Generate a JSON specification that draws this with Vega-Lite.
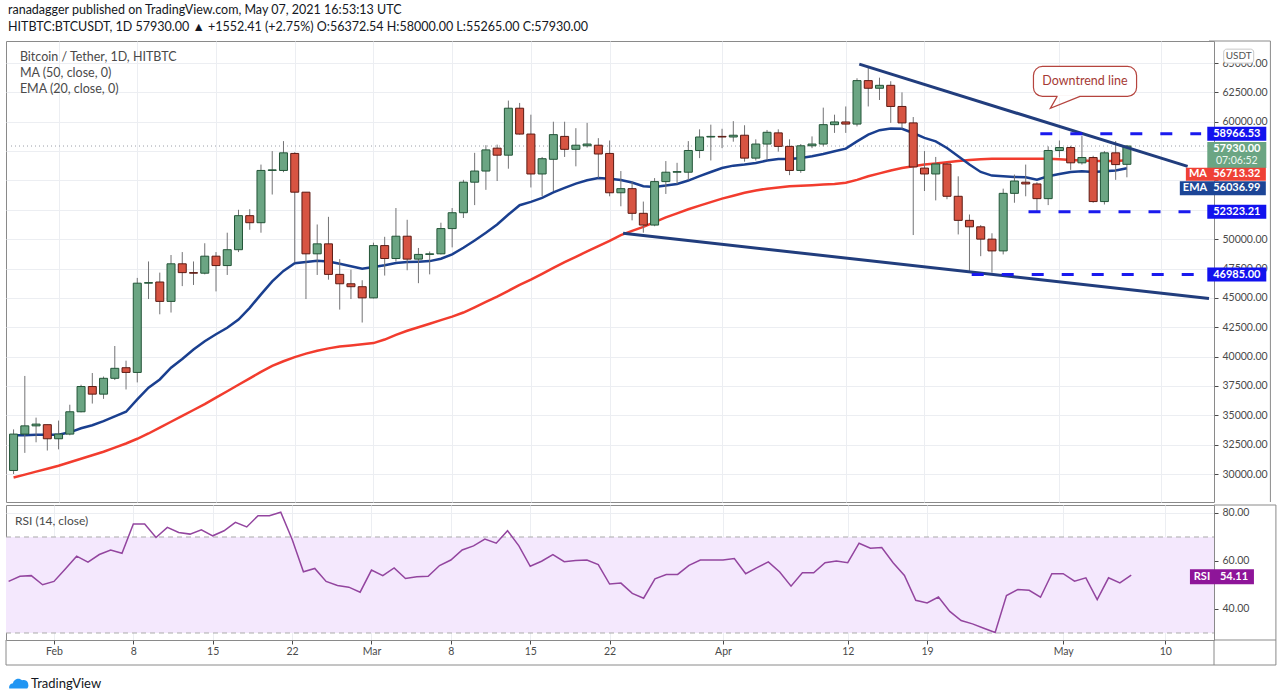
{
"$schema": "https://vega.github.io/schema/vega-lite/v6.json",
"background": "white",
"padding": {"left": 5, "top": 4, "right": 5, "bottom": 0},
"title": {"text": "ranadagger published on TradingView.com, May 07, 2021 16:53:13 UTC", "subtitle": "HITBTC:BTCUSDT, 1D  57930.00 ▲ +1552.41 (+2.75%)  O:56372.54  H:58000.00  L:55265.00  C:57930.00", "anchor": "start", "font": "Lato", "fontSize": 12.5, "fontWeight": "normal", "color": "#131722", "subtitleFont": "Lato", "subtitleFontSize": 12.5, "subtitleColor": "#131722", "subtitlePadding": 4, "offset": 7, "dx": 3},
"datasets": {
"bars": [
{"d":"2021-01-28","o":30300,"h":33800,"l":30000,"c":33400,"ma":29700,"ema":33300,"rsi":51.5},
{"d":"2021-01-29","o":33400,"h":38350,"l":31800,"c":34100,"ma":29950,"ema":33300,"rsi":53.6},
{"d":"2021-01-30","o":34100,"h":34800,"l":32700,"c":34250,"ma":30200,"ema":33350,"rsi":53.9},
{"d":"2021-01-31","o":34200,"h":34200,"l":32000,"c":33000,"ma":30450,"ema":33350,"rsi":50.1},
{"d":"2021-02-01","o":33000,"h":34550,"l":32100,"c":33400,"ma":30700,"ema":33350,"rsi":51.5},
{"d":"2021-02-02","o":33400,"h":35900,"l":33300,"c":35300,"ma":31000,"ema":33550,"rsi":56.7},
{"d":"2021-02-03","o":35300,"h":37600,"l":35250,"c":37450,"ma":31300,"ema":33900,"rsi":62.0},
{"d":"2021-02-04","o":37450,"h":38600,"l":36000,"c":36800,"ma":31600,"ema":34150,"rsi":59.5},
{"d":"2021-02-05","o":36800,"h":38300,"l":36400,"c":38150,"ma":31900,"ema":34500,"rsi":62.7},
{"d":"2021-02-06","o":38150,"h":40900,"l":38000,"c":39000,"ma":32250,"ema":34900,"rsi":64.6},
{"d":"2021-02-07","o":39050,"h":39650,"l":37200,"c":38650,"ma":32600,"ema":35300,"rsi":63.2},
{"d":"2021-02-08","o":38650,"h":46700,"l":37800,"c":46250,"ma":33000,"ema":36350,"rsi":75.4},
{"d":"2021-02-09","o":46250,"h":48100,"l":44900,"c":46300,"ma":33450,"ema":37350,"rsi":75.4},
{"d":"2021-02-10","o":46350,"h":47150,"l":43600,"c":44700,"ma":33950,"ema":38050,"rsi":69.8},
{"d":"2021-02-11","o":44700,"h":48650,"l":43750,"c":47900,"ma":34450,"ema":39050,"rsi":74.0},
{"d":"2021-02-12","o":47900,"h":48900,"l":46000,"c":47150,"ma":34950,"ema":39800,"rsi":71.9},
{"d":"2021-02-13","o":47150,"h":48100,"l":46100,"c":47100,"ma":35450,"ema":40600,"rsi":71.2},
{"d":"2021-02-14","o":47100,"h":49650,"l":47000,"c":48550,"ma":35950,"ema":41300,"rsi":73.0},
{"d":"2021-02-15","o":48550,"h":48900,"l":45550,"c":47750,"ma":36500,"ema":41900,"rsi":70.5},
{"d":"2021-02-16","o":47750,"h":50550,"l":46950,"c":49100,"ma":37050,"ema":42450,"rsi":72.6},
{"d":"2021-02-17","o":49100,"h":52500,"l":48900,"c":52000,"ma":37600,"ema":43150,"rsi":76.1},
{"d":"2021-02-18","o":52000,"h":52550,"l":50800,"c":51400,"ma":38150,"ema":44150,"rsi":74.2},
{"d":"2021-02-19","o":51400,"h":56350,"l":50550,"c":55850,"ma":38700,"ema":45300,"rsi":78.9},
{"d":"2021-02-20","o":55850,"h":57500,"l":53800,"c":55900,"ma":39200,"ema":46400,"rsi":78.9},
{"d":"2021-02-21","o":55850,"h":58350,"l":55700,"c":57350,"ma":39600,"ema":47300,"rsi":80.3},
{"d":"2021-02-22","o":57300,"h":57400,"l":48000,"c":54000,"ma":39950,"ema":47950,"rsi":69.1},
{"d":"2021-02-23","o":54000,"h":54000,"l":44900,"c":48750,"ma":40250,"ema":48050,"rsi":55.5},
{"d":"2021-02-24","o":48750,"h":51250,"l":46950,"c":49600,"ma":40500,"ema":48150,"rsi":56.9},
{"d":"2021-02-25","o":49600,"h":51900,"l":46550,"c":47000,"ma":40700,"ema":48100,"rsi":51.5},
{"d":"2021-02-26","o":47000,"h":48300,"l":44000,"c":46200,"ma":40850,"ema":47900,"rsi":49.8},
{"d":"2021-02-27","o":46200,"h":47400,"l":44900,"c":45950,"ma":40950,"ema":47700,"rsi":49.1},
{"d":"2021-02-28","o":45950,"h":46500,"l":42900,"c":45000,"ma":41050,"ema":47480,"rsi":47.0},
{"d":"2021-03-01","o":45000,"h":49700,"l":44950,"c":49450,"ma":41150,"ema":47620,"rsi":56.2},
{"d":"2021-03-02","o":49450,"h":50200,"l":46900,"c":48350,"ma":41450,"ema":47770,"rsi":53.9},
{"d":"2021-03-03","o":48350,"h":52650,"l":48100,"c":50250,"ma":41850,"ema":47960,"rsi":57.1},
{"d":"2021-03-04","o":50250,"h":51650,"l":47350,"c":48300,"ma":42200,"ema":48050,"rsi":52.7},
{"d":"2021-03-05","o":48300,"h":49250,"l":46250,"c":48700,"ma":42500,"ema":48080,"rsi":53.4},
{"d":"2021-03-06","o":48700,"h":48950,"l":47000,"c":48750,"ma":42800,"ema":48130,"rsi":53.6},
{"d":"2021-03-07","o":48750,"h":51400,"l":48700,"c":50900,"ma":43100,"ema":48330,"rsi":58.1},
{"d":"2021-03-08","o":50900,"h":52650,"l":49300,"c":52250,"ma":43400,"ema":48700,"rsi":60.4},
{"d":"2021-03-09","o":52250,"h":55050,"l":51800,"c":54850,"ma":43750,"ema":49270,"rsi":64.6},
{"d":"2021-03-10","o":54850,"h":57350,"l":52900,"c":55800,"ma":44200,"ema":49890,"rsi":66.3},
{"d":"2021-03-11","o":55800,"h":58000,"l":54200,"c":57600,"ma":44650,"ema":50540,"rsi":69.1},
{"d":"2021-03-12","o":57750,"h":58050,"l":54950,"c":57150,"ma":45100,"ema":51250,"rsi":67.4},
{"d":"2021-03-13","o":57150,"h":61800,"l":56000,"c":61150,"ma":45600,"ema":52100,"rsi":72.6},
{"d":"2021-03-14","o":61150,"h":61600,"l":58900,"c":58950,"ma":46100,"ema":52890,"rsi":66.3},
{"d":"2021-03-15","o":58950,"h":60600,"l":54400,"c":55550,"ma":46550,"ema":53170,"rsi":57.8},
{"d":"2021-03-16","o":55550,"h":57000,"l":53650,"c":56850,"ma":47050,"ema":53510,"rsi":59.9},
{"d":"2021-03-17","o":56800,"h":60000,"l":54100,"c":58900,"ma":47550,"ema":53990,"rsi":62.7},
{"d":"2021-03-18","o":58750,"h":60000,"l":57000,"c":57650,"ma":48050,"ema":54360,"rsi":59.7},
{"d":"2021-03-19","o":57650,"h":59450,"l":56200,"c":58000,"ma":48500,"ema":54730,"rsi":60.2},
{"d":"2021-03-20","o":57950,"h":59900,"l":57800,"c":58100,"ma":48950,"ema":55020,"rsi":60.4},
{"d":"2021-03-21","o":58000,"h":58600,"l":55200,"c":57250,"ma":49400,"ema":55210,"rsi":58.5},
{"d":"2021-03-22","o":57300,"h":58400,"l":53650,"c":53950,"ma":49850,"ema":55150,"rsi":50.4},
{"d":"2021-03-23","o":53950,"h":55800,"l":52800,"c":54300,"ma":50350,"ema":55030,"rsi":50.8},
{"d":"2021-03-24","o":54300,"h":54900,"l":51600,"c":52200,"ma":50700,"ema":54820,"rsi":46.5},
{"d":"2021-03-25","o":52200,"h":53200,"l":50550,"c":51200,"ma":51050,"ema":54510,"rsi":44.5},
{"d":"2021-03-26","o":51200,"h":55200,"l":51100,"c":54900,"ma":51450,"ema":54450,"rsi":52.6},
{"d":"2021-03-27","o":54900,"h":56650,"l":53850,"c":55700,"ma":51850,"ema":54560,"rsi":54.4},
{"d":"2021-03-28","o":55700,"h":56500,"l":54700,"c":55750,"ma":52200,"ema":54700,"rsi":54.4},
{"d":"2021-03-29","o":55700,"h":58350,"l":55050,"c":57550,"ma":52550,"ema":54990,"rsi":58.2},
{"d":"2021-03-30","o":57550,"h":59350,"l":56900,"c":58700,"ma":52850,"ema":55360,"rsi":60.4},
{"d":"2021-03-31","o":58700,"h":59750,"l":56700,"c":58750,"ma":53150,"ema":55720,"rsi":60.4},
{"d":"2021-04-01","o":58750,"h":59400,"l":57750,"c":58700,"ma":53450,"ema":56060,"rsi":60.4},
{"d":"2021-04-02","o":58700,"h":60050,"l":58300,"c":58850,"ma":53700,"ema":56260,"rsi":61.0},
{"d":"2021-04-03","o":58850,"h":59700,"l":56600,"c":56900,"ma":53950,"ema":56350,"rsi":54.7},
{"d":"2021-04-04","o":56900,"h":58500,"l":56700,"c":58100,"ma":54150,"ema":56490,"rsi":57.2},
{"d":"2021-04-05","o":58100,"h":59300,"l":56750,"c":59100,"ma":54300,"ema":56690,"rsi":59.6},
{"d":"2021-04-06","o":59050,"h":59350,"l":57450,"c":57900,"ma":54400,"ema":56830,"rsi":55.4},
{"d":"2021-04-07","o":57900,"h":58500,"l":55450,"c":55850,"ma":54500,"ema":56830,"rsi":49.5},
{"d":"2021-04-08","o":55850,"h":58100,"l":55650,"c":57950,"ma":54550,"ema":56910,"rsi":55.1},
{"d":"2021-04-09","o":57950,"h":58750,"l":57750,"c":58100,"ma":54600,"ema":57060,"rsi":55.1},
{"d":"2021-04-10","o":58100,"h":61200,"l":57900,"c":59750,"ma":54650,"ema":57250,"rsi":59.3},
{"d":"2021-04-11","o":59750,"h":60600,"l":59050,"c":59980,"ma":54700,"ema":57480,"rsi":60.0},
{"d":"2021-04-12","o":59980,"h":61300,"l":59050,"c":59800,"ma":54800,"ema":57710,"rsi":59.3},
{"d":"2021-04-13","o":59800,"h":63700,"l":59600,"c":63500,"ma":55050,"ema":58330,"rsi":67.4},
{"d":"2021-04-14","o":63500,"h":64600,"l":61300,"c":62850,"ma":55350,"ema":58900,"rsi":65.3},
{"d":"2021-04-15","o":62850,"h":63750,"l":61850,"c":63100,"ma":55600,"ema":59280,"rsi":65.6},
{"d":"2021-04-16","o":63100,"h":63450,"l":59900,"c":61300,"ma":55850,"ema":59420,"rsi":59.3},
{"d":"2021-04-17","o":61300,"h":62500,"l":59400,"c":59900,"ma":56050,"ema":59400,"rsi":54.0},
{"d":"2021-04-18","o":59900,"h":60400,"l":50350,"c":56150,"ma":56200,"ema":59040,"rsi":43.6},
{"d":"2021-04-19","o":56050,"h":57500,"l":54100,"c":55550,"ma":56350,"ema":58620,"rsi":42.5},
{"d":"2021-04-20","o":55550,"h":57000,"l":53300,"c":56400,"ma":56450,"ema":58330,"rsi":45.0},
{"d":"2021-04-21","o":56400,"h":56500,"l":53400,"c":53650,"ma":56550,"ema":57760,"rsi":39.0},
{"d":"2021-04-22","o":53650,"h":55350,"l":50400,"c":51600,"ma":56650,"ema":57060,"rsi":35.2},
{"d":"2021-04-23","o":51600,"h":52100,"l":47300,"c":51050,"ma":56750,"ema":56350,"rsi":33.8},
{"d":"2021-04-24","o":51050,"h":51200,"l":48550,"c":50000,"ma":56800,"ema":55720,"rsi":32.0},
{"d":"2021-04-25","o":50000,"h":50500,"l":47150,"c":49000,"ma":56850,"ema":55410,"rsi":30.2},
{"d":"2021-04-26","o":49000,"h":54300,"l":48700,"c":53900,"ma":56850,"ema":55360,"rsi":45.6},
{"d":"2021-04-27","o":53900,"h":55500,"l":53100,"c":54950,"ma":56850,"ema":55300,"rsi":48.1},
{"d":"2021-04-28","o":54850,"h":56350,"l":53650,"c":54700,"ma":56850,"ema":55270,"rsi":47.8},
{"d":"2021-04-29","o":54700,"h":54850,"l":52400,"c":53450,"ma":56850,"ema":55070,"rsi":44.9},
{"d":"2021-04-30","o":53450,"h":57900,"l":52900,"c":57550,"ma":56850,"ema":55360,"rsi":54.7},
{"d":"2021-05-01","o":57550,"h":58400,"l":56950,"c":57800,"ma":56800,"ema":55550,"rsi":54.7},
{"d":"2021-05-02","o":57800,"h":57950,"l":55900,"c":56500,"ma":56750,"ema":55720,"rsi":51.6},
{"d":"2021-05-03","o":56500,"h":58800,"l":56350,"c":56950,"ma":56700,"ema":55780,"rsi":53.0},
{"d":"2021-05-04","o":56950,"h":57100,"l":53100,"c":53200,"ma":56650,"ema":55720,"rsi":43.9},
{"d":"2021-05-05","o":53200,"h":57500,"l":52950,"c":57350,"ma":56650,"ema":55780,"rsi":53.0},
{"d":"2021-05-06","o":57350,"h":58350,"l":55050,"c":56350,"ma":56650,"ema":55840,"rsi":50.9},
{"d":"2021-05-07","o":56372.54,"h":58000,"l":55265,"c":57930,"ma":56713.32,"ema":56036.99,"rsi":54.11}
]
},
"spacing": 1,
"vconcat": [
{
"width": 1208, "height": 461,
"encoding": {
 "x": {"field": "d", "type": "temporal", "scale": {"type": "utc", "domain": [{"year":2021,"month":1,"date":27,"hours":18,"minutes":30,"utc":true},{"year":2021,"month":5,"date":14,"hours":7,"minutes":12,"utc":true}]},
  "axis": {"values": [{"year":2021,"month":2,"date":1,"utc":true},{"year":2021,"month":2,"date":8,"utc":true},{"year":2021,"month":2,"date":15,"utc":true},{"year":2021,"month":2,"date":22,"utc":true},{"year":2021,"month":3,"date":1,"utc":true},{"year":2021,"month":3,"date":8,"utc":true},{"year":2021,"month":3,"date":15,"utc":true},{"year":2021,"month":3,"date":22,"utc":true},{"year":2021,"month":4,"date":1,"utc":true},{"year":2021,"month":4,"date":12,"utc":true},{"year":2021,"month":4,"date":19,"utc":true},{"year":2021,"month":5,"date":1,"utc":true},{"year":2021,"month":5,"date":10,"utc":true}], "grid": true, "labels": false, "ticks": false, "domain": false, "title": null}},
 "y": {"field": "p", "type": "quantitative", "title": null, "scale": {"domain": [27616, 66874], "nice": false, "zero": false},
  "axis": {"orient": "right", "values": [30000,32500,35000,37500,40000,42500,45000,47500,50000,52500,55000,57500,60000,62500,65000], "labelExpr": "indexof([52500, 55000, 57500], datum.value) >= 0 ? '' : format(datum.value, '.2f')", "tickSize": 4, "labelPadding": 4, "domain": false, "title": null}}
},
"layer": [
 {"data": {"values": [{"d":"2021-01-27T18:30:00Z","d2":"2021-05-14T07:12:00Z","p":57930}]}, "mark": {"type": "rule", "color": "#9a9ea8", "strokeDash": [1,3], "strokeWidth": 1}, "encoding": {"x2": {"field": "d2"}}},
 {"data": {"name": "bars"}, "mark": {"type": "line", "color": "#f23c2e", "strokeWidth": 2.5}, "encoding": {"y": {"field": "ma", "type": "quantitative", "title": null, "scale": {"domain": [27616, 66874], "nice": false, "zero": false}, "axis": {"orient": "right", "values": [30000,32500,35000,37500,40000,42500,45000,47500,50000,52500,55000,57500,60000,62500,65000], "labelExpr": "indexof([52500, 55000, 57500], datum.value) >= 0 ? '' : format(datum.value, '.2f')", "tickSize": 4, "labelPadding": 4, "domain": false, "title": null}}}},
 {"data": {"name": "bars"}, "mark": {"type": "line", "color": "#1a3f8f", "strokeWidth": 2.5}, "encoding": {"y": {"field": "ema", "type": "quantitative", "title": null, "scale": {"domain": [27616, 66874], "nice": false, "zero": false}, "axis": {"orient": "right", "values": [30000,32500,35000,37500,40000,42500,45000,47500,50000,52500,55000,57500,60000,62500,65000], "labelExpr": "indexof([52500, 55000, 57500], datum.value) >= 0 ? '' : format(datum.value, '.2f')", "tickSize": 4, "labelPadding": 4, "domain": false, "title": null}}}},
 {"data": {"name": "bars"}, "mark": {"type": "rule", "color": "#737375", "strokeWidth": 1}, "encoding": {"y": {"field": "l", "type": "quantitative", "title": null, "scale": {"domain": [27616, 66874], "nice": false, "zero": false}, "axis": {"orient": "right", "values": [30000,32500,35000,37500,40000,42500,45000,47500,50000,52500,55000,57500,60000,62500,65000], "labelExpr": "indexof([52500, 55000, 57500], datum.value) >= 0 ? '' : format(datum.value, '.2f')", "tickSize": 4, "labelPadding": 4, "domain": false, "title": null}}, "y2": {"field": "h"}}},
 {"data": {"name": "bars"}, "mark": {"type": "bar", "width": 8, "strokeWidth": 1}, "encoding": {"y": {"field": "o", "type": "quantitative", "title": null, "scale": {"domain": [27616, 66874], "nice": false, "zero": false}, "axis": {"orient": "right", "values": [30000,32500,35000,37500,40000,42500,45000,47500,50000,52500,55000,57500,60000,62500,65000], "labelExpr": "indexof([52500, 55000, 57500], datum.value) >= 0 ? '' : format(datum.value, '.2f')", "tickSize": 4, "labelPadding": 4, "domain": false, "title": null}}, "y2": {"field": "c"},
   "color": {"condition": {"test": "datum.c >= datum.o", "value": "#6ba583"}, "value": "#d75442"},
   "stroke": {"condition": {"test": "datum.c >= datum.o", "value": "#225437"}, "value": "#5b1a13"}}},
 {"data": {"values": [{"line":"res","d":"2021-04-13T04:48:00Z","p":64900},{"line":"res","d":"2021-05-12T09:36:00Z","p":56200},{"line":"sup","d":"2021-03-23T04:48:00Z","p":50500},{"line":"sup","d":"2021-05-14T07:12:00Z","p":44950}]}, "mark": {"type": "line", "color": "#213d7d", "strokeWidth": 3}, "encoding": {"detail": {"field": "line"}}},
 {"data": {"values": [{"d":"2021-04-29T07:12:00Z","d2":"2021-05-13T14:24:00Z","p":58966.53},{"d":"2021-04-28T06:00:00Z","d2":"2021-05-13T14:24:00Z","p":52323.21},{"d":"2021-04-23T04:48:00Z","d2":"2021-05-13T14:24:00Z","p":46985}]}, "mark": {"type": "rule", "color": "#1a1aee", "strokeWidth": 3, "strokeDash": [12,18]}, "encoding": {"x2": {"field": "d2"}}},
 {"data": {"values": [{"d":"2021-04-28T16:34:00Z","d2":"2021-05-07T20:38:00Z","p":64705,"p2":62155}]}, "mark": {"type": "rect", "fill": "white", "stroke": "#b5443e", "strokeWidth": 1.2, "cornerRadius": 9}, "encoding": {"x2": {"field": "d2"}, "y2": {"field": "p2"}}},
 {"data": {"values": [{"d":"2021-04-30T19:50:00Z","d2":"2021-05-02T19:10:00Z","p":62155}]}, "mark": {"type": "rule", "color": "white", "strokeWidth": 2.5}, "encoding": {"x2": {"field": "d2"}}},
 {"data": {"values": [{"i":1,"d":"2021-04-30T19:12:00Z","p":62155},{"i":2,"d":"2021-04-30T04:34:00Z","p":61135},{"i":3,"d":"2021-05-02T19:55:00Z","p":62155}]}, "mark": {"type": "line", "color": "#b5443e", "strokeWidth": 1.2}, "encoding": {"order": {"field": "i", "type": "quantitative"}}},
 {"data": {"values": [{"d":"2021-05-03T06:29:00Z","p":63455,"t":"Downtrend line"}]}, "mark": {"type": "text", "font": "Lato", "fontSize": 12.5, "color": "#a53a34", "align": "center", "baseline": "middle"}, "encoding": {"text": {"field": "t"}}},
 {"data": {"values": [{"d":"2021-01-28T13:30:00Z","p":65500,"t":"Bitcoin / Tether, 1D, HITBTC"},{"d":"2021-01-28T13:30:00Z","p":64137,"t":"MA (50, close, 0)"},{"d":"2021-01-28T13:30:00Z","p":62774,"t":"EMA (20, close, 0)"}]}, "mark": {"type": "text", "font": "Lato", "fontSize": 12.5, "color": "#4a4a4a", "align": "left", "baseline": "middle"}, "encoding": {"text": {"field": "t"}}},
 {"data": {"values": [{"d":"2021-05-16T18:30:00Z","p":58966.53},{"d":"2021-05-16T18:30:00Z","p":52323.21},{"d":"2021-05-16T18:30:00Z","p":46985}]}, "mark": {"type": "tick", "orient": "horizontal", "size": 59, "thickness": 14, "color": "#1212ee", "opacity": 1}},
 {"data": {"values": [{"d":"2021-05-16T18:30:00Z","p":58966.53,"t":"58966.53"},{"d":"2021-05-16T18:30:00Z","p":52323.21,"t":"52323.21"},{"d":"2021-05-16T18:30:00Z","p":46985,"t":"46985.00"}]}, "mark": {"type": "text", "font": "Lato", "fontSize": 11, "fontWeight": "bold", "color": "white", "align": "center", "baseline": "middle"}, "encoding": {"text": {"field": "t"}}},
 {"data": {"values": [{"d":"2021-05-16T18:30:00Z","p":57930}]}, "mark": {"type": "tick", "orient": "horizontal", "size": 59, "thickness": 26, "yOffset": 9, "color": "#6ba583", "opacity": 1}},
 {"data": {"values": [{"d":"2021-05-16T18:30:00Z","p":57930,"t":"57930.00"}]}, "mark": {"type": "text", "font": "Lato", "fontSize": 11, "fontWeight": "bold", "color": "white", "align": "center", "baseline": "middle", "dy": 3}, "encoding": {"text": {"field": "t"}}},
 {"data": {"values": [{"d":"2021-05-16T18:30:00Z","p":57930,"t":"07:06:52"}]}, "mark": {"type": "text", "font": "Lato", "fontSize": 10.5, "color": "#eef6f0", "align": "center", "baseline": "middle", "dy": 15}, "encoding": {"text": {"field": "t"}}},
 {"data": {"values": [{"d":"2021-05-15T19:12:00Z","p":56713.32}]}, "mark": {"type": "tick", "orient": "horizontal", "size": 80, "thickness": 13, "yOffset": 14, "color": "#ef4136", "opacity": 1}},
 {"data": {"values": [{"d":"2021-05-13T07:40:00Z","p":56713.32,"t":"MA"},{"d":"2021-05-16T18:30:00Z","p":56713.32,"t":"56713.32"}]}, "mark": {"type": "text", "font": "Lato", "fontSize": 11, "fontWeight": "bold", "color": "white", "align": "center", "baseline": "middle", "dy": 14}, "encoding": {"text": {"field": "t"}}},
 {"data": {"values": [{"d":"2021-05-15T12:43:00Z","p":56036.99}]}, "mark": {"type": "tick", "orient": "horizontal", "size": 86, "thickness": 14, "yOffset": 20, "color": "#1c4596", "opacity": 1}},
 {"data": {"values": [{"d":"2021-05-13T01:26:00Z","p":56036.99,"t":"EMA"},{"d":"2021-05-16T18:30:00Z","p":56036.99,"t":"56036.99"}]}, "mark": {"type": "text", "font": "Lato", "fontSize": 11, "fontWeight": "bold", "color": "white", "align": "center", "baseline": "middle", "dy": 20}, "encoding": {"text": {"field": "t"}}},
 {"data": {"values": [{"d":"2021-05-16T22:34:00Z","p":65584}]}, "mark": {"type": "tick", "orient": "horizontal", "size": 30, "thickness": 14, "fill": "white", "stroke": "#c8c8c8", "strokeWidth": 1, "cornerRadius": 3, "opacity": 1}},
 {"data": {"values": [{"d":"2021-05-16T22:34:00Z","p":65584,"t":"USDT"}]}, "mark": {"type": "text", "font": "Lato", "fontSize": 10, "color": "#555555", "align": "center", "baseline": "middle"}, "encoding": {"text": {"field": "t"}}},
 {"data": {"values": [{"d":"2021-05-19T18:14:00Z","d2":"2021-05-19T18:14:00Z","p":27616,"p2":66874},{"d":"2021-05-14T07:12:00Z","d2":"2021-05-19T18:14:00Z","p":66874,"p2":66874}]}, "mark": {"type": "rule", "color": "#8a8a8a", "strokeWidth": 1}, "encoding": {"x2": {"field": "d2"}, "y2": {"field": "p2"}}}
]
},
{
"width": 1208, "height": 135,
"encoding": {
 "x": {"field": "d", "type": "temporal", "scale": {"type": "utc", "domain": [{"year":2021,"month":1,"date":27,"hours":18,"minutes":30,"utc":true},{"year":2021,"month":5,"date":14,"hours":7,"minutes":12,"utc":true}]},
  "axis": {"values": [{"year":2021,"month":2,"date":1,"utc":true},{"year":2021,"month":2,"date":8,"utc":true},{"year":2021,"month":2,"date":15,"utc":true},{"year":2021,"month":2,"date":22,"utc":true},{"year":2021,"month":3,"date":1,"utc":true},{"year":2021,"month":3,"date":8,"utc":true},{"year":2021,"month":3,"date":15,"utc":true},{"year":2021,"month":3,"date":22,"utc":true},{"year":2021,"month":4,"date":1,"utc":true},{"year":2021,"month":4,"date":12,"utc":true},{"year":2021,"month":4,"date":19,"utc":true},{"year":2021,"month":5,"date":1,"utc":true},{"year":2021,"month":5,"date":10,"utc":true}],
   "labelExpr": "utcdate(datum.value) == 1 ? utcFormat(datum.value, '%b') : '' + utcdate(datum.value)", "grid": true, "tickSize": 4, "labelPadding": 2, "domain": false, "title": null}},
 "y": {"field": "p", "type": "quantitative", "title": null, "scale": {"domain": [27.08, 83.33], "nice": false, "zero": false},
  "axis": {"orient": "right", "values": [40, 60, 80], "format": ".2f", "tickSize": 4, "labelPadding": 4, "domain": false, "title": null}}
},
"layer": [
 {"data": {"values": [{"d":"2021-01-27T18:30:00Z","d2":"2021-05-14T07:12:00Z","p":30,"p2":70}]}, "mark": {"type": "rect", "color": "#f4e8fd", "opacity": 1}, "encoding": {"x2": {"field": "d2"}, "y2": {"field": "p2"}}},
 {"data": {"values": [{"d":"2021-01-27T18:30:00Z","d2":"2021-05-14T07:12:00Z","p":70},{"d":"2021-01-27T18:30:00Z","d2":"2021-05-14T07:12:00Z","p":30}]}, "mark": {"type": "rule", "color": "#ababab", "strokeDash": [5,4], "strokeWidth": 1}, "encoding": {"x2": {"field": "d2"}}},
 {"data": {"name": "bars"}, "mark": {"type": "line", "color": "#93459f", "strokeWidth": 1.5}, "encoding": {"y": {"field": "rsi", "type": "quantitative", "title": null, "scale": {"domain": [27.08, 83.33], "nice": false, "zero": false}, "axis": {"orient": "right", "values": [40, 60, 80], "format": ".2f", "tickSize": 4, "labelPadding": 4, "domain": false, "title": null}}}},
 {"data": {"values": [{"d":"2021-01-28T13:30:00Z","p":76.7,"t":"RSI (14, close)"}]}, "mark": {"type": "text", "font": "Lato", "fontSize": 12, "color": "#4a4a4a", "align": "left", "baseline": "middle"}, "encoding": {"text": {"field": "t"}}},
 {"data": {"values": [{"d":"2021-05-15T00:00:00Z","p":54.11}]}, "mark": {"type": "tick", "orient": "horizontal", "size": 64, "thickness": 15, "yOffset": 1.5, "color": "#8e1599", "opacity": 1}},
 {"data": {"values": [{"d":"2021-05-13T05:45:00Z","p":54.11,"t":"RSI"},{"d":"2021-05-16T01:26:00Z","p":54.11,"t":"54.11"}]}, "mark": {"type": "text", "font": "Lato", "fontSize": 11, "fontWeight": "bold", "color": "white", "align": "center", "baseline": "middle", "dy": 1.5}, "encoding": {"text": {"field": "t"}}},
 {"data": {"values": [{"d":"2021-01-28T22:00:00Z","p":8.75}]}, "mark": {"type": "point", "shape": "M -1 0.45 A 0.42 0.42 0 0 1 -0.62 -0.08 A 0.55 0.55 0 0 1 0.32 -0.38 A 0.45 0.45 0 0 1 0.95 0.05 A 0.4 0.4 0 0 1 0.85 0.45 Z", "size": 380, "filled": true, "color": "#2196f3", "opacity": 1}},
 {"data": {"values": [{"d":"2021-01-29T23:15:00Z","p":8.75,"t":"TradingView"}]}, "mark": {"type": "text", "font": "Lato", "fontSize": 13, "color": "#131722", "align": "left", "baseline": "middle"}, "encoding": {"text": {"field": "t"}}},
 {"data": {"values": [
   {"d":"2021-05-19T18:14:00Z","d2":"2021-05-19T18:14:00Z","p":16.66,"p2":83.33},
   {"d":"2021-01-27T18:30:00Z","d2":"2021-05-19T18:14:00Z","p":16.66,"p2":16.66},
   {"d":"2021-01-27T18:30:00Z","d2":"2021-01-27T18:30:00Z","p":16.66,"p2":27.08},
   {"d":"2021-05-14T07:12:00Z","d2":"2021-05-14T07:12:00Z","p":16.66,"p2":27.08},
   {"d":"2021-05-14T07:12:00Z","d2":"2021-05-19T18:14:00Z","p":27.08,"p2":27.08},
   {"d":"2021-05-14T07:12:00Z","d2":"2021-05-19T18:14:00Z","p":83.33,"p2":83.33}]}, "mark": {"type": "rule", "color": "#8a8a8a", "strokeWidth": 1}, "encoding": {"x2": {"field": "d2"}, "y2": {"field": "p2"}}}
]
}
],
"config": {
 "font": "Lato",
 "view": {"stroke": "#8a8a8a", "strokeWidth": 1},
 "axis": {"labelFont": "Lato", "labelFontSize": 10.5, "labelColor": "#4a4a4a", "gridColor": "#eceef2", "gridWidth": 1, "tickColor": "#4a4a4a", "domainColor": "#8a8a8a"}
}
}
